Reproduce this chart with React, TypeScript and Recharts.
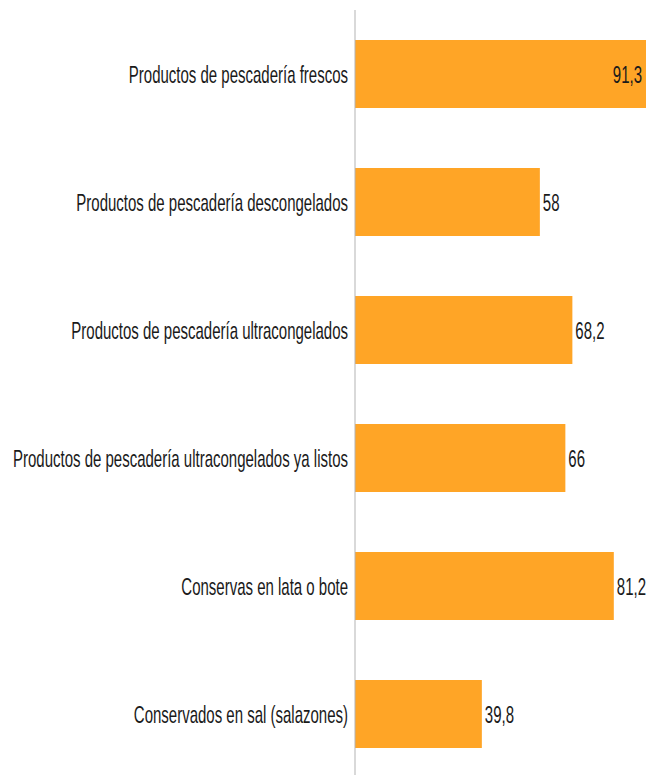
import React from "react";
import { BarChart, Bar, XAxis, YAxis, LabelList } from "recharts";

const categories = [
  "Productos de pescadería frescos",
  "Productos de pescadería descongelados",
  "Productos de pescadería ultracongelados",
  "Productos de pescadería ultracongelados ya listos",
  "Conservas en lata o bote",
  "Conservados en sal (salazones)",
];

const values = [91.3, 58, 68.2, 66, 81.2, 39.8];

const data = categories.map((name, i) => ({ name, value: values[i] }));

const FONT = "'Liberation Sans Narrow', 'Liberation Sans', Arial, sans-serif";
const MAX = 91.3;
const STRETCH = 1.6;

function CategoryTick(props: any) {
  const { x, y, payload } = props;
  return (
    <g transform={`translate(${x + 7},${y}) scale(1,${STRETCH})`}>
      <text
        x={0}
        y={0}
        dy="0.36em"
        textAnchor="end"
        fill="#1a1a1a"
        fontFamily={FONT}
        fontSize={15}
      >
        {payload.value}
      </text>
    </g>
  );
}

function ValueLabel(props: any) {
  const { x, y, width, height, value } = props;
  const inside = value >= MAX;
  const lx = inside ? x + width - 4 : x + width + 3;
  const ly = y + height / 2;
  return (
    <g transform={`translate(${lx},${ly}) scale(1,${STRETCH})`}>
      <text
        x={0}
        y={0}
        dy="0.36em"
        textAnchor={inside ? "end" : "start"}
        fill="#1a1a1a"
        fontFamily={FONT}
        fontSize={15}
      >
        {String(value).replace(".", ",")}
      </text>
    </g>
  );
}

export default function App() {
  return (
    <div
      style={{
        position: "fixed",
        left: 0,
        top: 0,
        width: 646,
        height: 775,
        overflow: "hidden",
        background: "#fff",
      }}
    >
      <BarChart
        width={646}
        height={778}
        data={data}
        layout="vertical"
        margin={{ top: 10, right: 0, bottom: 0, left: 0 }}
        barSize={68}
      >
        <XAxis type="number" domain={[0, MAX]} hide />
        <YAxis
          type="category"
          dataKey="name"
          width={355}
          axisLine={{ stroke: "#b3b3b3", strokeWidth: 1 }}
          tickLine={false}
          tickMargin={8}
          tick={<CategoryTick />}
          interval={0}
        />
        <Bar dataKey="value" fill="#ffa526" isAnimationActive={false}>
          <LabelList dataKey="value" content={<ValueLabel />} />
        </Bar>
      </BarChart>
    </div>
  );
}
